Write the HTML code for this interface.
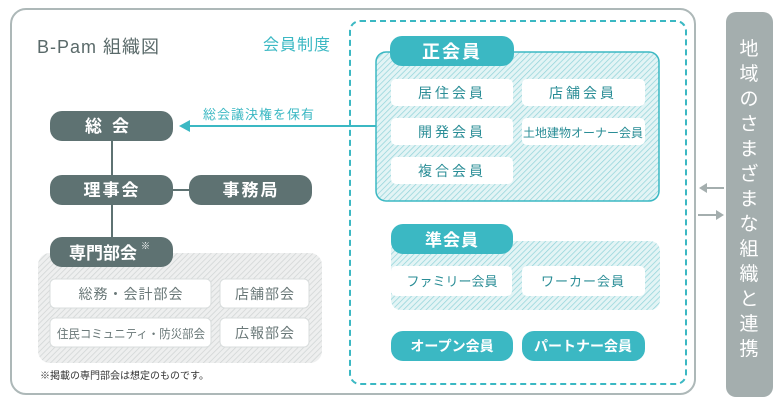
<!DOCTYPE html>
<html><head><meta charset="utf-8"><style>
html,body{margin:0;padding:0;background:#fff;}
svg{display:block;}
text{font-family:"Liberation Sans","Noto Sans CJK JP",sans-serif;}
</style></head><body>
<svg width="783" height="407" viewBox="0 0 783 407" xmlns="http://www.w3.org/2000/svg">
<defs>
<pattern id="ht" width="4" height="4" patternUnits="userSpaceOnUse" patternTransform="rotate(45)">
<rect width="4" height="4" fill="#e3f4f5"/><line x1="0" y1="0" x2="0" y2="4" stroke="#8fd3d9" stroke-width="1.4"/></pattern>
<pattern id="hg" width="4" height="4" patternUnits="userSpaceOnUse" patternTransform="rotate(45)">
<rect width="4" height="4" fill="#eeefef"/><line x1="0" y1="0" x2="0" y2="4" stroke="#cfd3d3" stroke-width="1.4"/></pattern>
</defs>
<rect x="11" y="9" width="684" height="385" rx="15" fill="#fff" stroke="#adb8b8" stroke-width="2"/>
<rect x="726" y="12" width="47" height="385" rx="10" fill="#a4aeae"/>
<g fill="#fff" font-size="19" text-anchor="middle">
<text x="749" y="55">地</text><text x="749" y="80">域</text><text x="749" y="105">の</text><text x="749" y="130">さ</text><text x="749" y="155">ま</text><text x="749" y="180">ざ</text><text x="749" y="205">ま</text><text x="749" y="230">な</text><text x="749" y="255">組</text><text x="749" y="280">織</text><text x="749" y="305">と</text><text x="749" y="330">連</text><text x="749" y="355">携</text>
</g>
<g stroke="#a4aeae" stroke-width="2" fill="#a4aeae">
<line x1="724" y1="188" x2="704" y2="188"/><polygon points="699,188 707,183 707,193" stroke="none"/>
<line x1="698" y1="215" x2="718" y2="215"/><polygon points="724,215 716,210 716,220" stroke="none"/>
</g>
<text x="37" y="53" font-size="18" fill="#5a6a6a" letter-spacing="1">B-Pam 組織図</text>
<text x="263" y="50" font-size="16" fill="#3bb8c3" letter-spacing="1">会員制度</text>
<rect x="350" y="21" width="336" height="363" rx="10" fill="none" stroke="#3bb8c3" stroke-width="2" stroke-dasharray="6,4"/>
<line x1="112" y1="141" x2="112" y2="240" stroke="#5e7272" stroke-width="2"/>
<line x1="173" y1="190" x2="189" y2="190" stroke="#5e7272" stroke-width="2"/>
<rect x="38" y="253" width="284" height="110" rx="12" fill="url(#hg)"/>
<g fill="#5e7272">
<rect x="50" y="111" width="123" height="30" rx="12"/>
<rect x="50" y="175" width="123" height="30" rx="12"/>
<rect x="189" y="175" width="123" height="30" rx="12"/>
<rect x="50" y="237" width="123" height="30" rx="12"/>
</g>
<g fill="#fff" font-size="17" font-weight="bold" text-anchor="middle">
<text x="112" y="132" letter-spacing="10">総会</text>
<text x="112" y="196" letter-spacing="2">理事会</text>
<text x="251" y="196" letter-spacing="2">事務局</text>
<text x="103" y="259">専門部会</text>
</g>
<text x="141" y="249" font-size="9" fill="#fff">※</text>
<g fill="#fff" stroke="#d8dcdc" stroke-width="1">
<rect x="50" y="279" width="161" height="29" rx="5"/>
<rect x="220" y="279" width="89" height="29" rx="5"/>
<rect x="50" y="318" width="161" height="29" rx="5"/>
<rect x="220" y="318" width="89" height="29" rx="5"/>
</g>
<g fill="#6a7878" font-size="14" text-anchor="middle">
<text x="131" y="299" letter-spacing="1">総務・会計部会</text>
<text x="265" y="299" letter-spacing="1">店舗部会</text>
<text x="131" y="338" font-size="12" textLength="148" lengthAdjust="spacingAndGlyphs">住民コミュニティ・防災部会</text>
<text x="265" y="338" letter-spacing="1">広報部会</text>
</g>
<text x="40" y="379" font-size="10" fill="#333">※掲載の専門部会は想定のものです。</text>
<line x1="377" y1="126" x2="188" y2="126" stroke="#3bb8c3" stroke-width="2"/>
<polygon points="179,126 190,120 190,132" fill="#3bb8c3"/>
<text x="203" y="119" font-size="13" fill="#3bb8c3" letter-spacing="1">総会議決権を保有</text>
<rect x="376" y="52" width="283" height="149" rx="10" fill="url(#ht)" stroke="#3bb8c3" stroke-width="1.5"/>
<rect x="390" y="36" width="124" height="30" rx="12" fill="#3bb8c3"/>
<text x="452" y="58" font-size="18" font-weight="bold" fill="#fff" text-anchor="middle" letter-spacing="2">正会員</text>
<g fill="#fff">
<rect x="391" y="79" width="122" height="27" rx="5"/><rect x="522" y="79" width="123" height="27" rx="5"/>
<rect x="391" y="118" width="122" height="27" rx="5"/><rect x="522" y="118" width="123" height="27" rx="5"/>
<rect x="391" y="157" width="122" height="27" rx="5"/>
</g>
<g fill="#2a8d96" font-size="14" text-anchor="middle">
<text x="452" y="98" letter-spacing="3">居住会員</text>
<text x="583" y="98" letter-spacing="3">店舗会員</text>
<text x="452" y="137" letter-spacing="3">開発会員</text>
<text x="583" y="137" font-size="12">土地建物オーナー会員</text>
<text x="452" y="176" letter-spacing="3">複合会員</text>
</g>
<rect x="391" y="241" width="269" height="69" rx="10" fill="url(#ht)"/>
<rect x="391" y="224" width="122" height="30" rx="12" fill="#3bb8c3"/>
<text x="452" y="246" font-size="17" font-weight="bold" fill="#fff" text-anchor="middle" letter-spacing="1">準会員</text>
<g fill="#fff">
<rect x="391" y="266" width="121" height="30" rx="5"/><rect x="522" y="266" width="123" height="30" rx="5"/>
</g>
<g fill="#2a8d96" font-size="13" text-anchor="middle">
<text x="452" y="286">ファミリー会員</text>
<text x="583" y="286" letter-spacing="1">ワーカー会員</text>
</g>
<g fill="#3bb8c3">
<rect x="391" y="331" width="122" height="30" rx="12"/><rect x="522" y="331" width="123" height="30" rx="12"/>
</g>
<g fill="#fff" font-size="14" font-weight="bold" text-anchor="middle">
<text x="452" y="351">オープン会員</text>
<text x="583" y="351">パートナー会員</text>
</g>
</svg>
</body></html>
